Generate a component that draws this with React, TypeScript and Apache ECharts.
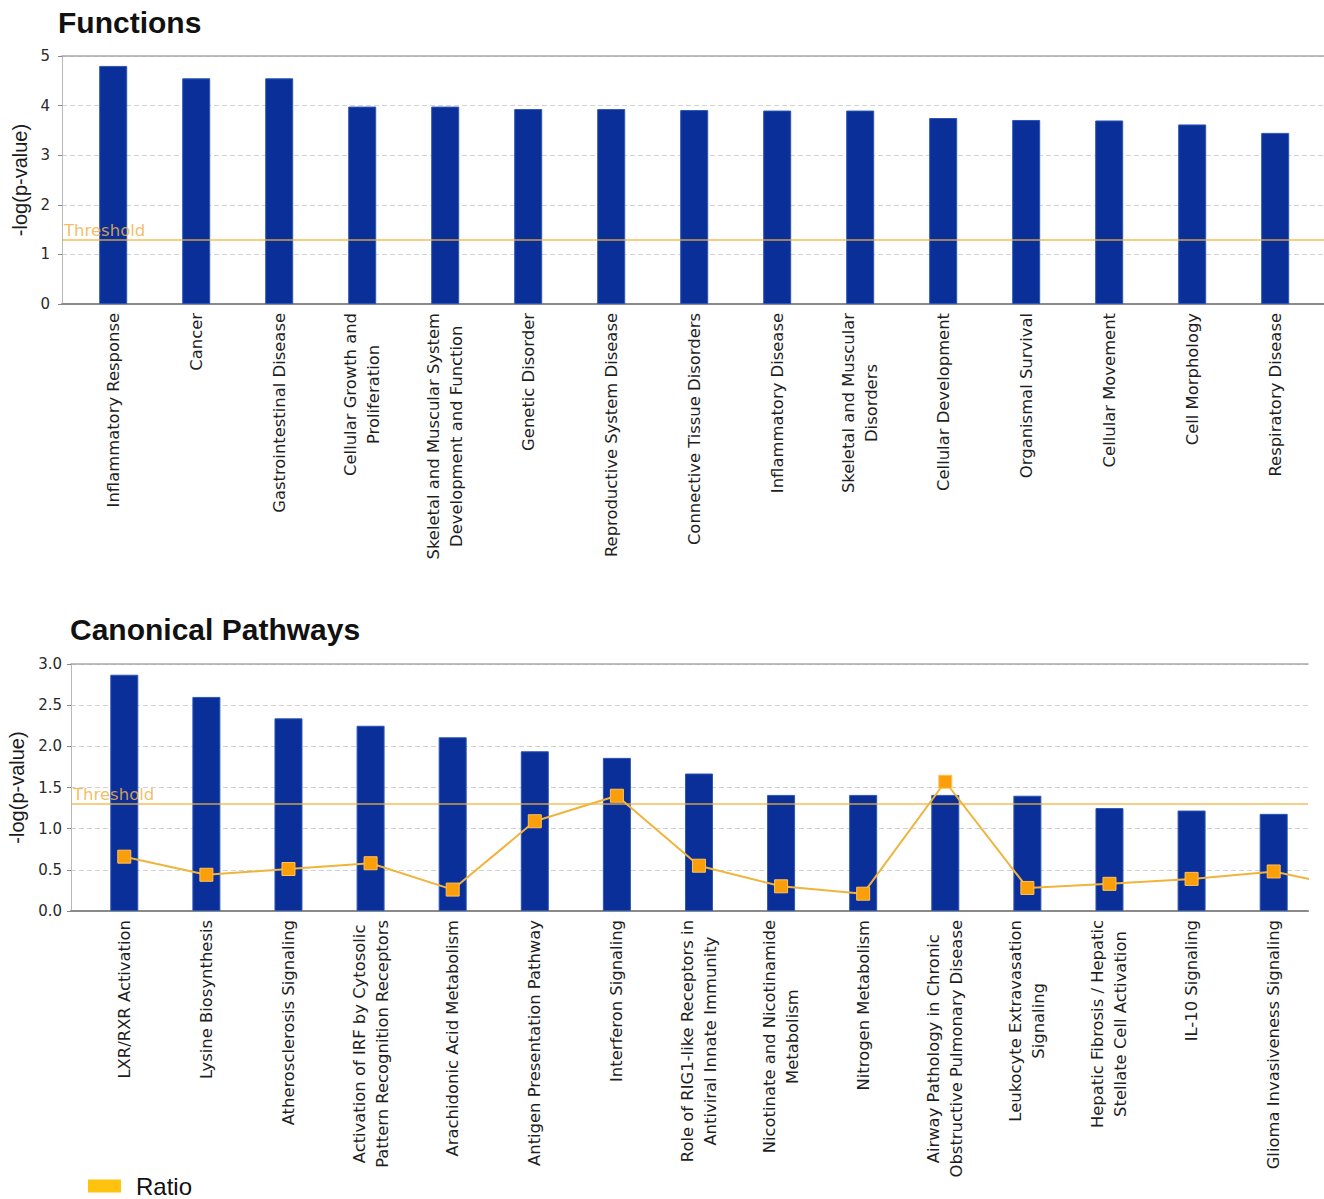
import React, { useEffect, useRef } from 'react';
import * as echarts from 'echarts';

// Functions panel
const functionCategories = [
  'Inflammatory Response',
  'Cancer',
  'Gastrointestinal Disease',
  'Cellular Growth and\nProliferation',
  'Skeletal and Muscular System\nDevelopment and Function',
  'Genetic Disorder',
  'Reproductive System Disease',
  'Connective Tissue Disorders',
  'Inflammatory Disease',
  'Skeletal and Muscular\nDisorders',
  'Cellular Development',
  'Organismal Survival',
  'Cellular Movement',
  'Cell Morphology',
  'Respiratory Disease',
];
const functionValues = [4.8, 4.55, 4.55, 3.98, 3.98, 3.93, 3.93, 3.91, 3.9, 3.9, 3.75, 3.71, 3.7, 3.62, 3.45];

// Canonical pathways panel
const pathwayCategories = [
  'LXR/RXR Activation',
  'Lysine Biosynthesis',
  'Atherosclerosis Signaling',
  'Activation of IRF by Cytosolic\nPattern Recognition Receptors',
  'Arachidonic Acid Metabolism',
  'Antigen Presentation Pathway',
  'Interferon Signaling',
  'Role of RIG1-like Receptors in\nAntiviral Innate Immunity',
  'Nicotinate and Nicotinamide\nMetabolism',
  'Nitrogen Metabolism',
  'Airway Pathology in Chronic\nObstructive Pulmonary Disease',
  'Leukocyte Extravasation\nSignaling',
  'Hepatic Fibrosis / Hepatic\nStellate Cell Activation',
  'IL-10 Signaling',
  'Glioma Invasiveness Signaling',
];
const pathwayValues = [2.87, 2.6, 2.34, 2.25, 2.11, 1.94, 1.86, 1.67, 1.41, 1.41, 1.41, 1.4, 1.25, 1.22, 1.18];
const pathwayRatios = [0.66, 0.44, 0.51, 0.58, 0.26, 1.09, 1.4, 0.55, 0.3, 0.21, 1.57, 0.28, 0.33, 0.39, 0.48];
// the ratio line runs on to the next pathway, which lies past the plot edge
const ratioNext = 0.27;

const functionTicks = [0, 1, 2, 3, 4, 5];
const pathwayTicks = [0, 0.5, 1.0, 1.5, 2.0, 2.5, 3.0];
const thresholdValue = 1.3;

const BAR_BLUE = '#0a2f98';
const LABEL_FONT = 'DejaVu Sans';
const TITLE_FONT = 'Liberation Sans';
const CAT_FONT_SIZE = 16.4;

const richLabel = (name: string) =>
  name
    .split('\n')
    .map((line) => `{c|${line}}`)
    .join('\n');

function categoryXAxes(gridIndex: number, names: string[], min: number, max: number) {
  const positions = names.map((_, i) => i);
  return [
    {
      type: 'value',
      gridIndex,
      min,
      max,
      position: 'bottom',
      axisLine: { show: true, onZero: false, lineStyle: { color: '#8a8a8a', width: 2 } },
      axisTick: { show: false },
      splitLine: { show: false },
      axisLabel: {
        customValues: positions,
        rotate: 90,
        margin: 9,
        fontFamily: LABEL_FONT,
        fontSize: CAT_FONT_SIZE,
        color: '#1e1e1e',
        lineHeight: 23,
        formatter: (v: number) => richLabel(names[Math.round(v)] ?? ''),
        rich: {
          c: { align: 'center', fontFamily: LABEL_FONT, fontSize: CAT_FONT_SIZE, color: '#1e1e1e', lineHeight: 23 },
        },
      },
    },
    {
      type: 'value',
      gridIndex,
      min,
      max,
      position: 'top',
      axisLine: { show: true, onZero: false, lineStyle: { color: '#a8a8a8', width: 1.5 } },
      axisTick: { show: false },
      axisLabel: { show: false },
      splitLine: { show: false },
    },
  ];
}

function valueYAxis(gridIndex: number, ticks: number[], labelMargin: number, digits: number, nameGap: number) {
  return {
    type: 'value',
    gridIndex,
    min: ticks[0],
    max: ticks[ticks.length - 1],
    interval: ticks[1] - ticks[0],
    name: '-log(p-value)',
    nameLocation: 'middle',
    nameRotate: 90,
    nameGap,
    nameTextStyle: { fontFamily: TITLE_FONT, fontSize: 20, color: '#1a1a1a' },
    axisLine: { show: true, onZero: false, lineStyle: { color: '#b8b8b8', width: 1 } },
    axisTick: { show: true, length: 4, lineStyle: { color: '#888' } },
    axisLabel: {
      margin: labelMargin,
      fontFamily: LABEL_FONT,
      fontSize: 15,
      color: '#2a2a2a',
      formatter: (v: number) => v.toFixed(digits),
    },
    splitLine: { show: true, lineStyle: { color: '#d2d2d2', width: 1, type: [5, 3] } },
  };
}

const thresholdMarkLine = {
  silent: true,
  symbol: 'none',
  lineStyle: { color: '#f0b23e', width: 1.5, type: 'solid', opacity: 0.85 },
  label: {
    show: true,
    position: 'insideStartTop',
    distance: [2, 1],
    formatter: 'Threshold',
    fontFamily: LABEL_FONT,
    fontSize: 16.5,
    color: '#efb24a',
  },
  data: [{ yAxis: thresholdValue }],
};

export default function App() {
  const ref = useRef<HTMLDivElement>(null);

  useEffect(() => {
    if (!ref.current) return;
    const chart = echarts.init(ref.current, undefined, { renderer: 'svg' });

    const topMin = -0.617;
    const topMax = 14.588;
    const bottomMin = -0.649;
    const bottomMax = 14.418;

    chart.setOption({
      animation: false,
      backgroundColor: '#ffffff',
      title: [
        {
          text: 'Functions',
          left: 58,
          top: 7,
          padding: 0,
          textStyle: { fontFamily: TITLE_FONT, fontWeight: 'bold', fontSize: 30, color: '#111' },
        },
        {
          text: 'Canonical Pathways',
          left: 70,
          top: 614,
          padding: 0,
          textStyle: { fontFamily: TITLE_FONT, fontWeight: 'bold', fontSize: 30, color: '#111' },
        },
      ],
      legend: {
        left: 88,
        top: 1174,
        padding: 0,
        itemWidth: 33,
        itemHeight: 13,
        data: [{ name: 'Ratio', icon: 'rect', itemStyle: { color: '#ffc20e', borderWidth: 0 } }],
        textStyle: { fontFamily: TITLE_FONT, fontSize: 24, lineHeight: 18, color: '#111', padding: [0, 0, 0, 10] },
      },
      grid: [
        { left: 62, top: 56, width: 1262, height: 248, containLabel: false, outerBoundsMode: 'none' },
        { left: 71, top: 664, width: 1237, height: 247, containLabel: false, outerBoundsMode: 'none' },
      ],
      xAxis: [
        ...categoryXAxes(0, functionCategories, topMin, topMax),
        ...categoryXAxes(1, pathwayCategories, bottomMin, bottomMax),
      ],
      yAxis: [valueYAxis(0, functionTicks, 12, 0, 32), valueYAxis(1, pathwayTicks, 9, 1, 44)],
      series: [
        {
          type: 'bar',
          name: 'Functions',
          xAxisIndex: 0,
          yAxisIndex: 0,
          barWidth: 28,
          itemStyle: { color: BAR_BLUE, borderColor: '#2c56b6', borderWidth: 1 },
          data: functionValues.map((v, i) => [i, v]),
          markLine: thresholdMarkLine,
        },
        {
          type: 'bar',
          name: 'Canonical Pathways',
          xAxisIndex: 2,
          yAxisIndex: 1,
          barWidth: 28,
          itemStyle: { color: BAR_BLUE, borderColor: '#2c56b6', borderWidth: 1 },
          data: pathwayValues.map((v, i) => [i, v]),
          markLine: thresholdMarkLine,
        },
        {
          type: 'line',
          name: 'Ratio',
          xAxisIndex: 2,
          yAxisIndex: 1,
          clip: true,
          symbol: 'rect',
          symbolSize: 13,
          lineStyle: { color: '#f0b43a', width: 2 },
          itemStyle: { color: '#fa9e0a', borderColor: '#ffc35a', borderWidth: 1 },
          data: [...pathwayRatios.map((v, i) => [i, v]), [pathwayRatios.length, ratioNext]],
          z: 5,
        },
      ],
    });

    return () => chart.dispose();
  }, []);

  return (
    <div
      ref={ref}
      style={{ position: 'absolute', left: 0, top: 0, width: 1324, height: 1199, background: '#fff' }}
    />
  );
}
